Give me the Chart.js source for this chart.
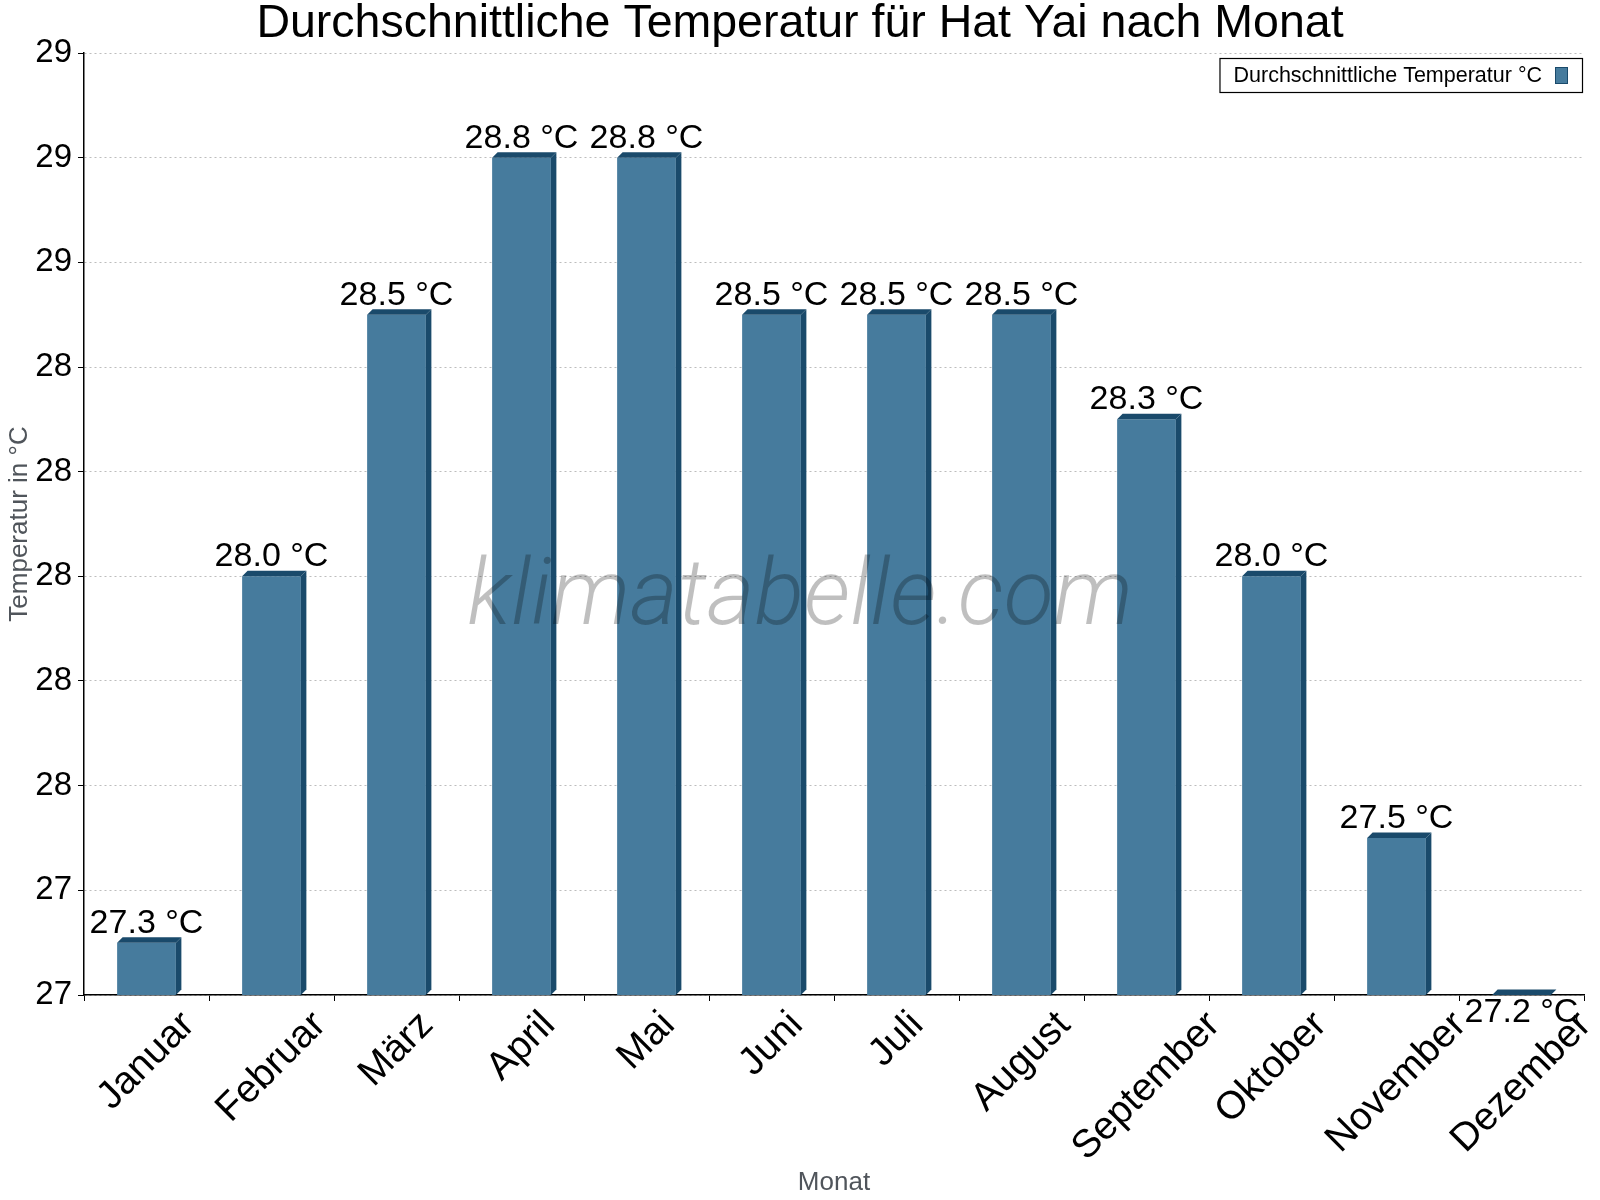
<!DOCTYPE html>
<html lang="de">
<head>
  <meta charset="UTF-8">
  <title>Durchschnittliche Temperatur für Hat Yai nach Monat</title>
  <script src="https://cdn.jsdelivr.net/npm/chart.js"></script>
  <style>
    html, body { margin: 0; padding: 0; background: #fff; }
    #wrap { width: 1600px; height: 1200px; }
  </style>
</head>
<body>
  <div id="wrap"><canvas id="tempChart" width="1600" height="1200"></canvas></div>

  <script>
    // Data
    const months = ['Januar', 'Februar', 'März', 'April', 'Mai', 'Juni', 'Juli', 'August', 'September', 'Oktober', 'November', 'Dezember'];
    const avgTemp = [27.3, 28.0, 28.5, 28.8, 28.8, 28.5, 28.5, 28.5, 28.3, 28.0, 27.5, 27.2];
    const yTickLabels = ['27', '27', '28', '28', '28', '28', '28', '29', '29', '29'];
    const yMin = 27.2;
    const yMax = 29.0;
    const yStep = 0.2;

    const FONT = '"Liberation Sans", Arial, sans-serif';
    const barFront = '#467b9d';
    const barSide = '#1a4a6b';
    Chart.defaults.font.family = FONT;

    // side + top faces for the pseudo 3D look
    const bar3d = {
      id: 'bar3d',
      afterDatasetsDraw(chart) {
        const ctx = chart.ctx;
        const d = 5.5;
        const floor = chart.scales.y.getPixelForValue(yMin);
        ctx.save();
        ctx.fillStyle = barSide;
        chart.getDatasetMeta(0).data.forEach(bar => {
          const l = bar.x - bar.width / 2, r = bar.x + bar.width / 2;
          const base = Math.min(bar.base, floor);
          ctx.beginPath();
          ctx.moveTo(r, bar.y);
          ctx.lineTo(r + d, bar.y - d);
          ctx.lineTo(r + d, base - d);
          ctx.lineTo(r, base);
          ctx.closePath();
          ctx.fill();
          ctx.beginPath();
          ctx.moveTo(l, bar.y);
          ctx.lineTo(l + d, bar.y - d);
          ctx.lineTo(r + d, bar.y - d);
          ctx.lineTo(r, bar.y);
          ctx.closePath();
          ctx.fill();
        });

        // value labels
        ctx.fillStyle = '#000';
        ctx.font = '34px ' + FONT;
        ctx.textAlign = 'center';
        ctx.textBaseline = 'alphabetic';
        chart.getDatasetMeta(0).data.forEach((bar, i) => {
          const v = avgTemp[i];
          const y = v <= yMin ? bar.y + 27 : bar.y - 10;
          ctx.fillText(v.toFixed(1) + ' °C', bar.x, y);
        });
        ctx.restore();
      }
    };

    // rotated month labels, centred under each bar
    const monthLabels = {
      id: 'monthLabels',
      afterDraw(chart) {
        const ctx = chart.ctx;
        const xs = chart.scales.x;
        const size = 39;
        ctx.save();
        ctx.fillStyle = '#000';
        ctx.font = size + 'px ' + FONT;
        ctx.textAlign = 'center';
        ctx.textBaseline = 'middle';
        months.forEach((m, i) => {
          const cx = xs.getPixelForValue(i);
          const w = ctx.measureText(m).width;
          const cy = xs.top + 14 + 0.354 * (w + 0.72 * size);
          ctx.save();
          ctx.translate(cx, cy);
          ctx.rotate(-Math.PI / 4);
          ctx.fillText(m, 0, 0);
          ctx.restore();
        });
        ctx.restore();
      }
    };

    // boxed legend in the top right corner, then the watermark on top
    const legendBox = {
      id: 'legendBox',
      afterDraw(chart) {
        const ctx = chart.ctx;
        const area = chart.chartArea;
        const label = chart.data.datasets[0].label;
        ctx.save();
        ctx.font = '21.5px ' + FONT;
        const tw = ctx.measureText(label).width;
        const right = area.right - 2;
        const top = area.top + 5;
        const h = 34;
        const left = right - (14 + tw + 13 + 12 + 15);
        ctx.fillStyle = '#fff';
        ctx.fillRect(left, top, right - left, h);
        ctx.strokeStyle = '#000';
        ctx.lineWidth = 1.2;
        ctx.strokeRect(left + 0.5, top + 0.5, right - left, h);
        ctx.fillStyle = '#000';
        ctx.textBaseline = 'middle';
        ctx.textAlign = 'left';
        ctx.fillText(label, left + 14, top + h / 2 + 1);
        const sx = left + 14 + tw + 13;
        ctx.fillStyle = barFront;
        ctx.fillRect(sx, top + 9, 12, 16);
        ctx.strokeStyle = barSide;
        ctx.lineWidth = 1;
        ctx.strokeRect(sx + 0.5, top + 9.5, 12, 16);

        ctx.font = 'italic 300 92px Roboto, ' + FONT;
        ctx.fillStyle = 'rgba(0, 0, 0, 0.25)';
        ctx.textAlign = 'center';
        ctx.textBaseline = 'alphabetic';
        ctx.fillText('klimatabelle.com', 800, 624);
        ctx.restore();
      }
    };

    const ctx = document.getElementById('tempChart').getContext('2d');
    new Chart(ctx, {
      type: 'bar',
      data: {
        labels: months,
        datasets: [{
          label: 'Durchschnittliche Temperatur °C',
          data: avgTemp,
          backgroundColor: barFront,
          borderWidth: 0,
          barPercentage: 0.47,
          categoryPercentage: 1.0
        }]
      },
      options: {
        responsive: false,
        animation: false,
        devicePixelRatio: 1,
        layout: { padding: { left: 16, right: 16, top: 0, bottom: 0 } },
        plugins: {
          legend: { display: false },
          tooltip: { enabled: false },
          title: {
            display: true,
            text: 'Durchschnittliche Temperatur für Hat Yai nach Monat',
            color: '#000',
            font: { size: 46.5, weight: 'normal', lineHeight: 1 },
            padding: { top: 1, bottom: 5.5 }
          }
        },
        scales: {
          x: {
            offset: true,
            afterFit(scale) { scale.height = 205; },
            ticks: { display: false },
            grid: { drawOnChartArea: false, drawTicks: true, tickLength: 6, tickColor: '#000', tickWidth: 1 },
            border: { display: true, color: '#000', width: 1.5 },
            title: {
              display: true,
              text: 'Monat',
              color: '#50555b',
              font: { size: 26, lineHeight: 1 },
              padding: { top: 0, bottom: 4 }
            }
          },
          y: {
            min: yMin,
            max: yMax,
            afterFit(scale) { scale.width = 68; },
            ticks: {
              stepSize: yStep,
              color: '#000',
              font: { size: 33 },
              padding: 6,
              callback: (v, i) => yTickLabels[i] ?? ''
            },
            grid: { color: '#bdbdbd', lineWidth: 1, tickLength: 6, tickColor: '#000', tickWidth: 1, tickBorderDash: [] },
            border: { display: true, color: '#000', width: 1.5, dash: [2, 3] },
            title: {
              display: true,
              text: 'Temperatur in °C',
              color: '#50555b',
              font: { size: 26, lineHeight: 1 },
              padding: { top: -9, bottom: 0 }
            }
          }
        }
      },
      plugins: [bar3d, monthLabels, legendBox]
    });
  </script>
</body>
</html>
